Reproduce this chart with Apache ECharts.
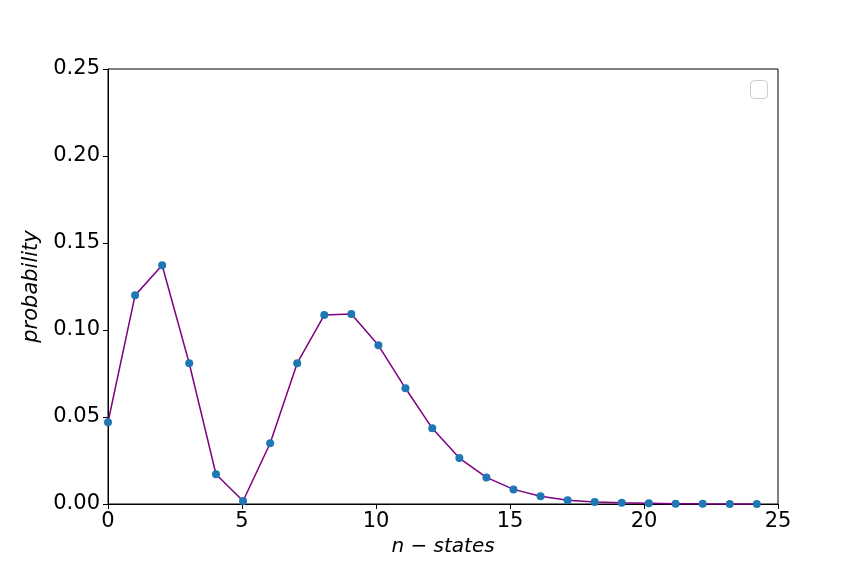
<!DOCTYPE html>
<html>
<head>
<meta charset="utf-8">
<script src="https://cdn.jsdelivr.net/npm/echarts@6/dist/echarts.min.js"></script>
<style>
  html, body { margin: 0; padding: 0; background: #fff; }
  #main { width: 864px; height: 576px; }
</style>
</head>
<body>
<div id="main"></div>
<script>
// n-states (x positions) and probabilities
var nStates = [0, 1.01, 2.02, 3.03, 4.03, 5.04, 6.05, 7.06, 8.07, 9.08, 10.09, 11.1, 12.1,
  13.11, 14.12, 15.13, 16.14, 17.15, 18.16, 19.17, 20.18, 21.18, 22.19, 23.2, 24.21];
var probability = [0.0470, 0.1199, 0.1372, 0.0809, 0.0171, 0.0017, 0.0349, 0.0809, 0.1086,
  0.1092, 0.0912, 0.0665, 0.0435, 0.0264, 0.0153, 0.0084, 0.0044, 0.0021, 0.0011,
  0.0007, 0.0005, 0.0002, 0.0001, 0.00005, 0.00002];

var points = nStates.map(function (x, i) { return [x, probability[i]]; });

var chart = echarts.init(document.getElementById('main'));
var font = 'DejaVu Sans';

chart.setOption({
  animation: false,
  backgroundColor: '#fff',
  grid: {
    left: 108, right: 86, top: 69, bottom: 72,
    show: true, borderColor: '#000', borderWidth: 1, backgroundColor: 'transparent'
  },
  xAxis: {
    type: 'value',
    min: 0, max: 25, interval: 5,
    name: 'n − states',
    nameLocation: 'middle',
    nameGap: 30,
    nameTextStyle: { fontFamily: font, fontSize: 20, fontStyle: 'italic', color: '#000' },
    axisLine: { show: true, lineStyle: { color: '#000', width: 1 } },
    axisTick: { show: true, inside: false, length: 5, lineStyle: { color: '#000' } },
    axisLabel: { fontFamily: font, fontSize: 21, color: '#000', margin: 7 },
    splitLine: { show: false }
  },
  yAxis: {
    type: 'value',
    min: 0, max: 0.25, interval: 0.05,
    name: 'probability',
    nameLocation: 'middle',
    nameGap: 64,
    nameTextStyle: { fontFamily: font, fontSize: 21, fontStyle: 'italic', color: '#000' },
    axisLine: { show: true, lineStyle: { color: '#000', width: 1 } },
    axisTick: { show: true, inside: false, length: 5, lineStyle: { color: '#000' } },
    axisLabel: {
      fontFamily: font, fontSize: 21, color: '#000', margin: 8,
      formatter: function (v) { return v.toFixed(2); }
    },
    splitLine: { show: false }
  },
  graphic: [{
    // empty legend box
    type: 'rect',
    left: 750, top: 80,
    shape: { width: 17, height: 18, r: 4 },
    style: { fill: '#fff', stroke: '#ccc', lineWidth: 1 }
  }],
  series: [{
    type: 'line',
    data: points,
    symbol: 'circle',
    symbolSize: 8,
    clip: false,
    lineStyle: { color: '#800080', width: 1.5 },
    itemStyle: { color: '#1f77b4', borderWidth: 0 },
    z: 3
  }]
});
</script>
</body>
</html>
